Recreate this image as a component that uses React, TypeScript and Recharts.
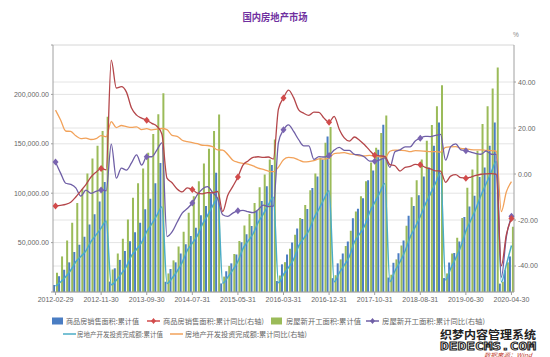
import { ComposedChart, Bar, Line, XAxis, YAxis, CartesianGrid } from "recharts";

// month-end dates, Feb..Dec each year (Jan is merged into Feb in the stats)
const lastDay = (y: number, m: number) => new Date(y, m, 0).getDate();
const dates: string[] = [];
for (let y = 2012; y <= 2020; y++) {
  for (let m = 2; m <= (y === 2020 ? 4 : 12); m++) {
    dates.push(`${y}-${String(m).padStart(2, "0")}-${lastDay(y, m)}`);
  }
}

// 商品房销售面积:累计值 (万平方米)
const salesArea = [
  7050, 16000, 22500, 30000, 40550, 47700, 56000, 68400, 78600, 91500, 111300,
  10540, 24000, 32500, 41500, 51400, 60500, 70000, 83700, 94500, 110000, 130550,
  10350, 23300, 30000, 39000, 48400, 56700, 65000, 77600, 87000, 100000, 120650,
  8660, 21000, 29000, 38000, 50300, 58400, 66700, 82000, 92000, 107000, 128500,
  11100, 28000, 38000, 50000, 64300, 74000, 84000, 105200, 117000, 134000, 157350,
  14000, 29000, 39000, 51000, 74660, 84300, 95000, 113000, 123000, 144000, 169400,
  14650, 29580, 39300, 52000, 77140, 87000, 98000, 117000, 126000, 148000, 171650,
  14100, 29830, 39500, 51000, 75790, 86600, 97500, 116400, 126000, 148000, 171560,
  8475, 21980, 36000,
];

// 商品房销售面积:累计同比 (%)
const salesAreaYoy = [
  -13.9, -13.6, -13.2, -12.3, -10.0, -7.3, -4.6, -1.3, 0.8, 2.4, 1.8,
  49.5, 37.4, 38.0, 35.6, 28.7, 25.6, 24.3, 23.4, 22.0, 20.8, 17.3,
  -1.8, -3.8, -6.5, -7.8, -6.0, -6.7, -8.3, -8.6, -8.1, -8.2, -7.6,
  -16.3, -9.2, -5.4, -1.3, 3.9, 5.7, 7.2, 7.5, 7.2, 7.4, 6.5,
  28.2, 33.1, 36.5, 33.2, 27.9, 26.4, 25.5, 26.9, 26.8, 24.3, 22.5,
  25.1, 19.5, 15.7, 14.3, 16.1, 14.7, 12.7, 10.3, 8.2, 7.9, 7.7,
  4.1, 3.6, 1.3, 2.9, 3.3, 4.2, 4.0, 2.9, 2.2, 1.4, 1.3,
  -3.6, -0.9, -0.3, -1.6, -1.8, -1.3, -0.6, -0.1, 0.1, 0.2, -0.1,
  -39.9, -26.3, -19.3,
];

// 房屋新开工面积:累计值 (万平方米)
const newStart = [
  19500, 36000, 52000, 70000, 90000, 104000, 120000, 135000, 148000, 163000, 177330,
  22800, 39000, 54000, 73500, 95500, 110000, 125000, 141000, 160000, 180000, 201200,
  18800, 32000, 46000, 61000, 80100, 97000, 112000, 130000, 145000, 163000, 179600,
  15600, 26400, 38400, 51500, 67400, 79000, 90000, 106000, 119000, 134000, 154450,
  16700, 30200, 43800, 58000, 75000, 88000, 103000, 120000, 136000, 151000, 166930,
  17000, 33000, 46600, 62000, 81500, 97000, 112000, 131000, 146000, 161000, 178650,
  17500, 33000, 47000, 67000, 95800, 113000, 134000, 153000, 169000, 188000, 209340,
  18800, 39000, 55000, 75000, 105500, 124000, 143000, 170000, 188000, 206000, 227150,
  10370, 30000, 66000,
];

// 房屋新开工面积:累计同比 (%)
const newStartYoy = [
  5.2, 0.4, -4.0, -4.5, -6.0, -9.6, -7.0, -8.4, -7.5, -7.0, -7.3,
  13.0, -1.8, 2.6, 1.7, 4.8, 8.3, 3.9, 7.5, 7.5, 10.4, 13.5,
  -27.2, -25.2, -21.0, -17.0, -15.0, -12.6, -9.0, -6.5, -5.5, -8.0, -10.7,
  -17.7, -18.4, -17.0, -16.0, -15.8, -16.4, -16.8, -15.5, -13.5, -14.2, -14.0,
  13.7, 19.2, 21.4, 18.5, 14.9, 12.2, 12.2, 6.4, 7.6, 7.4, 8.1,
  10.4, 11.6, 10.3, 10.3, 8.5, 8.3, 7.4, 5.6, 5.6, 6.1, 7.0,
  2.9, 9.7, 10.5, 11.8, 11.8, 14.4, 15.6, 16.4, 16.3, 16.8, 17.2,
  6.0, 11.9, 13.1, 10.5, 10.1, 9.5, 8.9, 8.6, 10.0, 8.6, 8.5,
  -44.9, -27.2, -18.4,
];

// 房地产开发投资完成额:累计值 (亿元)
const invest = [
  5880, 10050, 15350, 22000, 30610, 36000, 41700, 51050, 57800, 64700, 71800,
  7230, 11870, 18600, 26000, 36830, 43350, 50120, 61120, 68930, 77450, 86010,
  8630, 13900, 21000, 30000, 42020, 49460, 57000, 68750, 77400, 86940, 95040,
  8870, 15000, 22300, 31000, 43950, 51550, 58950, 70530, 78900, 88130, 95980,
  9290, 17680, 24890, 33000, 46630, 54300, 62000, 74600, 84000, 94000, 102580,
  10340, 19290, 27200, 36000, 50610, 58620, 66900, 80640, 90500, 100390, 109800,
  10360, 21290, 30590, 41410, 55530, 65780, 76520, 88950, 99330, 110080, 120260,
  12090, 23800, 34220, 46080, 61610, 72840, 84590, 98010, 109600, 121270, 132190,
  10115, 28000, 47000,
];

// 房地产开发投资完成额:累计同比 (%)
const investYoy = [
  27.8, 23.5, 18.7, 18.5, 16.6, 15.4, 15.6, 15.0, 15.4, 16.7, 16.2,
  22.8, 20.2, 21.1, 20.6, 20.3, 20.5, 19.3, 19.7, 19.2, 19.5, 19.8,
  19.3, 16.8, 16.4, 14.7, 14.1, 13.7, 13.2, 12.5, 12.4, 11.9, 10.5,
  10.4, 8.5, 6.0, 5.1, 4.6, 4.3, 3.5, 2.6, 2.0, 1.3, 1.0,
  3.0, 6.2, 7.2, 7.0, 6.1, 5.3, 5.4, 5.8, 6.6, 6.5, 6.9,
  8.9, 9.1, 9.3, 8.8, 8.5, 7.9, 7.9, 8.1, 7.8, 7.5, 7.0,
  9.9, 10.4, 10.3, 10.2, 9.7, 10.2, 10.1, 9.9, 9.7, 9.7, 9.5,
  11.6, 11.8, 11.9, 11.2, 10.9, 10.6, 10.5, 10.5, 10.3, 10.2, 9.9,
  -16.3, -7.7, -3.3,
];

const leftTicks = [0, 50000, 100000, 150000, 200000, 250000];
const rightTicks = [-40, -20, 0, 20, 40];

const rows = dates.map((date, i) => ({
  date,
  salesArea: salesArea[i],
  salesAreaYoy: salesAreaYoy[i],
  newStart: newStart[i],
  newStartYoy: newStartYoy[i],
  invest: invest[i],
  investYoy: investYoy[i],
}));

const C = {
  blue: "#4a7dc3",
  green: "#9bbb59",
  red: "#b4464a",
  redDot: "#d24b4b",
  purple: "#6f5fa6",
  purpleDot: "#7a64b0",
  cyan: "#4bacc6",
  orange: "#f2a25a",
  grid: "#e4e4e4",
  axis: "#a0a0a0",
  text: "#666",
};

const tickFont = { fontSize: 7, fill: C.text, fontFamily: "'Liberation Sans', Arial, sans-serif" };
const cjk = "'Noto Sans CJK SC', sans-serif";

// diamond marker on every 9th point (same spots as the x labels)
const diamond = (color: string) => (p: any) => {
  const { cx, cy, index } = p;
  if (index % 9 !== 0 || cx == null || cy == null) return <g key={index} />;
  return (
    <path
      key={index}
      d={`M${cx},${cy - 3.5}L${cx + 3},${cy}L${cx},${cy + 3.5}L${cx - 3},${cy}Z`}
      fill={color}
    />
  );
};

const fmtLeft = (v: number) =>
  v === 0 || v === 250000
    ? ""
    : v.toLocaleString("en-US", { minimumFractionDigits: 2, maximumFractionDigits: 2 });

function LegendSwatch({ x, y, kind, color }: { x: number; y: number; kind: string; color: string }) {
  if (kind === "rect") return <rect x={x} y={y - 3.5} width={11} height={7} fill={color} />;
  return (
    <g>
      <line x1={x} x2={x + 13} y1={y} y2={y} stroke={color} strokeWidth={1.5} />
      {kind === "dot" && (
        <path d={`M${x + 6.5},${y - 3}L${x + 9},${y}L${x + 6.5},${y + 3}L${x + 4},${y}Z`} fill={color} />
      )}
    </g>
  );
}

const legendItems = [
  { x: 52, tx: 66, tw: 73, row: 0, kind: "rect", color: C.blue, label: "商品房销售面积:累计值" },
  { x: 147, tx: 163, tw: 101, row: 0, kind: "dot", color: C.redDot, label: "商品房销售面积:累计同比(右轴)" },
  { x: 271, tx: 286, tw: 75, row: 0, kind: "rect", color: C.green, label: "房屋新开工面积:累计值" },
  { x: 366, tx: 382, tw: 103, row: 0, kind: "dot", color: C.purple, label: "房屋新开工面积:累计同比(右轴)" },
  { x: 63, tx: 77, tw: 86, row: 1, kind: "line", color: C.cyan, label: "房地产开发投资完成额:累计值" },
  { x: 170, tx: 185, tw: 122, row: 1, kind: "line", color: C.orange, label: "房地产开发投资完成额:累计同比(右轴)" },
];

export default function App() {
  return (
    <div style={{ position: "absolute", left: 0, top: 0, width: 550, height: 357, background: "#fff" }}>
      <ComposedChart
        width={550}
        height={310}
        data={rows}
        margin={{ top: 45, right: 0, bottom: 4, left: 0 }}
        barSize={2}
        barGap={1}
      >
        <CartesianGrid yAxisId="l" vertical={false} stroke={C.grid} />
        <CartesianGrid yAxisId="r" vertical={false} stroke={C.grid} />
        <XAxis
          dataKey="date"
          interval={8}
          height={14}
          tick={tickFont}
          tickSize={3}
          tickMargin={2}
          stroke={C.axis}
        />
        <YAxis
          yAxisId="l"
          domain={[0, 250000]}
          ticks={leftTicks}
          allowDataOverflow
          width={53}
          tick={tickFont}
          tickSize={2}
          tickMargin={2}
          tickFormatter={fmtLeft}
          stroke={C.axis}
        />
        <YAxis
          yAxisId="r"
          orientation="right"
          domain={[-51.3, 56.1]}
          ticks={rightTicks}
          allowDataOverflow
          width={36}
          tick={tickFont}
          tickSize={2}
          tickMargin={2}
          tickFormatter={(v: number) => v.toFixed(2)}
          stroke={C.axis}
        />
        <Bar yAxisId="l" dataKey="salesArea" fill={C.blue} isAnimationActive={false} />
        <Bar yAxisId="l" dataKey="newStart" fill={C.green} isAnimationActive={false} />
        <Line
          yAxisId="l"
          type="monotone"
          dataKey="invest"
          stroke={C.cyan}
          strokeWidth={1.5}
          dot={false}
          activeDot={false}
          isAnimationActive={false}
        />
        <Line
          yAxisId="r"
          type="monotone"
          dataKey="investYoy"
          stroke={C.orange}
          strokeWidth={1.3}
          dot={false}
          activeDot={false}
          isAnimationActive={false}
        />
        <Line
          yAxisId="r"
          type="monotone"
          dataKey="newStartYoy"
          stroke={C.purple}
          strokeWidth={1.3}
          dot={diamond(C.purpleDot)}
          activeDot={false}
          isAnimationActive={false}
        />
        <Line
          yAxisId="r"
          type="monotone"
          dataKey="salesAreaYoy"
          stroke={C.red}
          strokeWidth={1.3}
          dot={diamond(C.redDot)}
          activeDot={false}
          isAnimationActive={false}
        />
      </ComposedChart>

      <svg width={550} height={357} style={{ position: "absolute", left: 0, top: 0, pointerEvents: "none" }}>
        <text x={275} y={21} textAnchor="middle" fontSize={10} fontWeight="bold" fill="#7030a0" fontFamily={cjk} textLength={65} lengthAdjust="spacingAndGlyphs">
          国内房地产市场
        </text>
        <text x={513} y={37} fontSize={6.5} fill="#888" fontFamily="'Liberation Sans', Arial, sans-serif">%</text>

        {legendItems.map((it) => {
          const cy = it.row === 0 ? 321 : 334;
          return (
            <g key={it.label}>
              <LegendSwatch x={it.x} y={cy} kind={it.kind} color={it.color} />
              <text x={it.tx} y={cy + 2.6} fontSize={7} fill={C.text} fontFamily={cjk} textLength={it.tw} lengthAdjust="spacingAndGlyphs">
                {it.label}
              </text>
            </g>
          );
        })}

        <text x={440} y={338.5} fontSize={11.5} fontWeight="bold" fill="#222" fontFamily={cjk} textLength={96} lengthAdjust="spacingAndGlyphs">
          织梦内容管理系统
        </text>
        <text x={440} y={350} fontSize={10} fontWeight="bold" fill="#fff" stroke="#222" strokeWidth={0.8} fontFamily="'DejaVu Sans Mono', monospace" textLength={96} lengthAdjust="spacingAndGlyphs">
          DEDECMS.COM
        </text>
        <text x={484} y={356.5} fontSize={5.5} fontStyle="italic" fill="#c0392b" fontFamily={cjk} textLength={48} lengthAdjust="spacingAndGlyphs">
          数据来源：Wind
        </text>
      </svg>
    </div>
  );
}
